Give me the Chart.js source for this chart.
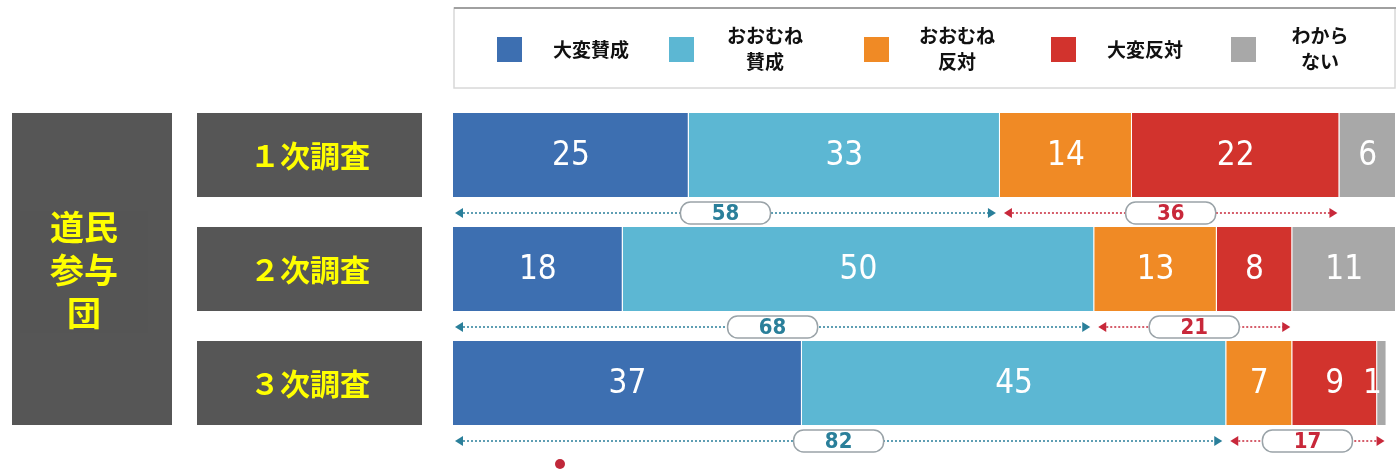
<!DOCTYPE html>
<html>
<head>
<meta charset="utf-8">
<script src="https://cdn.jsdelivr.net/npm/chart.js@4/dist/chart.umd.min.js"></script>
<style>
  body { margin: 0; background: #fff; }
  canvas { display: block; }
</style>
</head>
<body>
<canvas id="myChart" width="1396" height="473"></canvas>
<script>
const categories = ["１次調査", "２次調査", "３次調査"];
const groupLabel = ["道民", "参与", "団"];
const seriesNames = ["大変賛成", "おおむね賛成", "おおむね反対", "大変反対", "わからない"];
const legendLines = [["大変賛成"], ["おおむね", "賛成"], ["おおむね", "反対"], ["大変反対"], ["わから", "ない"]];
const strongAgree = [25, 18, 37];
const agree = [33, 50, 45];
const disagree = [14, 13, 7];
const strongDisagree = [22, 8, 9];
const dontKnow = [6, 11, 1];
const agreeTotal = [58, 68, 82];
const disagreeTotal = [36, 21, 17];

const seriesData = [strongAgree, agree, disagree, strongDisagree, dontKnow];
const colors = ["#3d6fb1", "#5cb7d3", "#f08a25", "#d2332d", "#a8a8a8"];

const numFont = "'DejaVu Sans Condensed', 'Liberation Sans Narrow', sans-serif";
const jpFont = "'Noto Sans CJK JP', sans-serif";

function arrowHead(c, x, y, dir, color) {
  c.fillStyle = color;
  c.beginPath();
  c.moveTo(x, y);
  c.lineTo(x - dir * 8, y - 5);
  c.lineTo(x - dir * 8, y + 5);
  c.closePath();
  c.fill();
}

function span(c, x1, x2, y, color, text) {
  c.save();
  c.strokeStyle = color;
  c.lineWidth = 1.5;
  c.setLineDash([2, 2]);
  c.beginPath();
  c.moveTo(x1 + 4, y);
  c.lineTo(x2 - 4, y);
  c.stroke();
  c.setLineDash([]);
  arrowHead(c, x1, y, -1, color);
  arrowHead(c, x2, y, 1, color);
  const mid = (x1 + x2) / 2;
  c.fillStyle = "#fff";
  c.strokeStyle = "#9aa3a8";
  c.lineWidth = 1.5;
  c.beginPath();
  c.roundRect(mid - 45, y - 11, 90, 22, 10);
  c.fill();
  c.stroke();
  c.fillStyle = color;
  c.font = "bold 22px " + numFont;
  c.textAlign = "center";
  c.textBaseline = "middle";
  c.fillText(text, mid, y + 1);
  c.restore();
}

const drawExtras = {
  id: "drawExtras",
  afterDatasetsDraw(chart) {
    const c = chart.ctx;
    const xs = chart.scales.x;
    const W = chart.width;

    // values inside the segments
    c.save();
    c.fillStyle = "#fff";
    c.font = "33px " + numFont;
    c.textAlign = "center";
    c.textBaseline = "middle";
    seriesData.forEach((d, i) => {
      chart.getDatasetMeta(i).data.forEach((bar, j) => {
        const w = c.measureText(String(d[j])).width;
        const x = Math.min((bar.x + bar.base) / 2, W - w / 2 - 14);
        c.fillText(String(d[j]), x, bar.y + 1);
      });
    });
    c.restore();

    // left boxes
    const m0 = chart.getDatasetMeta(0).data;
    const top0 = m0[0].y - m0[0].height / 2;
    const bot2 = m0[2].y + m0[2].height / 2;
    c.save();
    c.fillStyle = "#565656";
    c.fillRect(12, top0, 160, bot2 - top0);
    const midY = (top0 + bot2) / 2;
    c.fillStyle = "#555";
    c.fillRect(20, midY - 58, 128, 122);
    c.fillStyle = "#ffff00";
    c.font = "bold 34px " + jpFont;
    c.textAlign = "center";
    c.textBaseline = "middle";
    groupLabel.forEach((t, k) => c.fillText(t, 84, midY - 42 + k * 43));

    c.font = "bold 30px " + jpFont;
    m0.forEach((bar, j) => {
      const t = bar.y - bar.height / 2;
      c.fillStyle = "#565656";
      c.fillRect(197, t, 225, bar.height);
      c.fillStyle = "#ffff00";
      c.fillText(categories[j], 310, bar.y + 1);

      // span arrows under each bar
      const y = bar.y + bar.height / 2 + 16;
      const xa = xs.getPixelForValue(agreeTotal[j]);
      const xd = xs.getPixelForValue(agreeTotal[j] + disagreeTotal[j]);
      span(c, xs.getPixelForValue(0) + 2, xa - 4, y, "#2a7f9a", String(agreeTotal[j]));
      span(c, xa + 4, xd - 2, y, "#c8283a", String(disagreeTotal[j]));
    });

    // legend
    c.strokeStyle = "#d8d8d8";
    c.lineWidth = 1.5;
    c.strokeRect(454, 8, 941, 80);
    c.strokeStyle = "#a0a0a0";
    c.lineWidth = 2;
    c.beginPath();
    c.moveTo(454, 8);
    c.lineTo(1396, 8);
    c.stroke();
    const sqX = [497, 669, 864, 1051, 1231];
    const txX = [591, 765, 957, 1145, 1320];
    c.font = "bold 19px " + jpFont;
    legendLines.forEach((lines, i) => {
      c.fillStyle = colors[i];
      c.fillRect(sqX[i], 37, 25, 25);
      c.fillStyle = "#111";
      if (lines.length === 1) {
        c.fillText(lines[0], txX[i], 50);
      } else {
        c.fillText(lines[0], txX[i], 36);
        c.fillText(lines[1], txX[i], 62);
      }
    });

    c.fillStyle = "#c0283a";
    c.beginPath();
    c.arc(560, 464, 5, 0, Math.PI * 2);
    c.fill();
    c.restore();
  },
};

const ctx = document.getElementById("myChart").getContext("2d");
const myChart = new Chart(ctx, {
  type: "bar",
  data: {
    labels: categories,
    datasets: seriesNames.map((name, i) => ({
      label: name,
      data: seriesData[i],
      backgroundColor: colors[i],
      borderColor: "#ffffff",
      borderWidth: { top: 0, bottom: 0, left: 0, right: 1 },
      borderSkipped: false,
      categoryPercentage: 1,
      barPercentage: 0.737,
    })),
  },
  options: {
    indexAxis: "y",
    responsive: false,
    animation: false,
    layout: { padding: { left: 453, right: 0, top: 98, bottom: 33 } },
    scales: {
      x: { stacked: true, min: 0, max: 100, display: false },
      y: { stacked: true, display: false },
    },
    plugins: {
      legend: { display: false },
      tooltip: { enabled: false },
    },
  },
  plugins: [drawExtras],
});
</script>
</body>
</html>
